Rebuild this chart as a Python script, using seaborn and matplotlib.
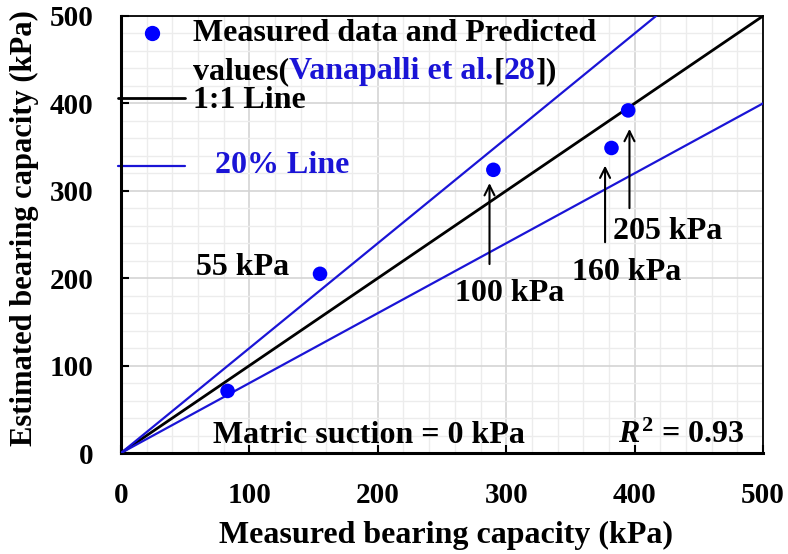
import matplotlib
matplotlib.use("Agg")
import matplotlib.pyplot as plt
import seaborn as sns
import numpy as np
import pandas as pd
from matplotlib.ticker import MultipleLocator

# Data
measured = [83, 155, 290, 382, 395]
estimated = [71, 205, 324, 349, 392]
line_x = [0, 500]
one_to_one = [0, 500]
upper_20 = [0, 600]
lower_20 = [0, 400]
ticks = [0, 100, 200, 300, 400, 500]

# Annotations: (label, text_x, text_y, arrow_x, arrow_tail_y, arrow_head_y)
ann_labels = ["100 kPa", "160 kPa", "205 kPa"]
ann_text_xy = [(303, 183), (394, 207), (426, 253)]
ann_arrows = [(287, 213, 312), (377, 238, 332), (396, 277, 374)]

sns.set_theme(style="white")
plt.rcParams['font.family'] = ['Liberation Serif', 'DejaVu Serif']
plt.rcParams['font.weight'] = 'bold'
plt.rcParams['text.color'] = 'black'
plt.rcParams['axes.labelcolor'] = 'black'
plt.rcParams['xtick.color'] = 'black'
plt.rcParams['ytick.color'] = 'black'
plt.rcParams['mathtext.fontset'] = 'custom'
plt.rcParams['mathtext.it'] = 'Liberation Serif:italic:bold'
plt.rcParams['mathtext.rm'] = 'Liberation Serif:bold'

FS = 23
TFS = 21

fig = plt.figure(figsize=(7.88, 5.54), dpi=100)
ax = fig.add_axes([121/788, 1 - 453/554, 642/788, 437/554])

df = pd.DataFrame({"measured": measured, "estimated": estimated})
lines = pd.DataFrame({"x": line_x, "one": one_to_one, "up": upper_20, "low": lower_20})

sns.lineplot(data=lines, x="x", y="one", color="black", lw=2, ax=ax, zorder=3)
sns.lineplot(data=lines, x="x", y="up", color="#1a14d6", lw=1.6, ax=ax, zorder=3)
sns.lineplot(data=lines, x="x", y="low", color="#1a14d6", lw=1.6, ax=ax, zorder=3)
sns.scatterplot(data=df, x="measured", y="estimated", color="#0000ff", s=110,
                edgecolor="none", ax=ax, zorder=4)

ax.set_xlim(0, 500)
ax.set_ylim(0, 500)
ax.xaxis.set_minor_locator(MultipleLocator(20))
ax.yaxis.set_minor_locator(MultipleLocator(20))
ax.set_xticks(ticks)
ax.set_yticks(ticks)
ax.set_xticklabels([str(t) for t in ticks], fontsize=TFS, fontweight='bold')
ax.set_yticklabels([str(t) for t in ticks], fontsize=TFS, fontweight='bold')
ax.grid(which='major', color='#d4d4d4', lw=1.2, zorder=0)
ax.grid(which='minor', color='#ececec', lw=1.0, zorder=0)
ax.set_axisbelow(True)
ax.tick_params(which='major', direction='in', length=6, width=1.5, color='black',
               bottom=True, left=True, top=False, right=False)
ax.tick_params(axis='y', pad=20)
ax.tick_params(axis='x', pad=21)
ax.tick_params(which='minor', length=0)
for s in ['left', 'bottom']:
    ax.spines[s].set_linewidth(2.2)
    ax.spines[s].set_color('black')
for s in ['top', 'right']:
    ax.spines[s].set_linewidth(1.3)
    ax.spines[s].set_color('black')

ax.set_xlabel("Measured bearing capacity (kPa)", fontsize=FS, fontweight='bold')
ax.set_ylabel("Estimated bearing capacity (kPa)", fontsize=22, fontweight='bold')
ax.xaxis.set_label_coords(0.506, -0.155)
ax.yaxis.set_label_coords(-0.128, 0.515)

# Annotations
ax.text(95, 212, "55 kPa", fontsize=FS, fontweight='bold', ha='center', va='center')
for lab, (tx, ty), (axx, t0, t1) in zip(ann_labels, ann_text_xy, ann_arrows):
    ax.text(tx, ty, lab, fontsize=FS, fontweight='bold', ha='center', va='center')
    ax.annotate("", xy=(axx, t1), xytext=(axx, t0),
                arrowprops=dict(arrowstyle='->', color='black', lw=1.5, mutation_scale=18))

ax.text(193, 20, "Matric suction = 0 kPa", fontsize=FS, fontweight='bold', ha='center', va='center')
ax.text(436, 20, r"$R^2$ = 0.93", fontsize=FS, fontweight='bold', ha='center', va='center')

# Legend (manual)
T = ax.transAxes
ax.plot([0.048], [0.961], 'o', color='#0000ff', ms=10, transform=T, clip_on=False)
ax.text(0.112, 0.961, "Measured data and Predicted", transform=T, fontsize=FS,
        fontweight='bold', va='center', ha='left')
t1 = ax.text(0.112, 0.872, "values(", transform=T, fontsize=FS, fontweight='bold', va='center', ha='left')
fig.canvas.draw()
def chain(prev, s, color):
    return ax.annotate(s, xycoords=prev, xy=(1, 0), va='bottom', ha='left',
                       fontsize=FS, fontweight='bold', color=color)
t2 = chain(t1, "Vanapalli et al.", '#1a14d6')
t3 = chain(t2, "[", 'black')
t4 = chain(t3, "28", '#1a14d6')
t5 = chain(t4, "])", 'black')
ax.plot([-0.005, 0.10], [0.812, 0.812], color='black', lw=2, transform=T, clip_on=False)
ax.text(0.112, 0.806, "1:1 Line", transform=T, fontsize=FS, fontweight='bold', va='center', ha='left')
ax.plot([-0.005, 0.10], [0.657, 0.657], color='#1a14d6', lw=1.6, transform=T, clip_on=False)
ax.text(0.146, 0.657, "20% Line", transform=T, fontsize=FS, fontweight='bold', va='center',
        ha='left', color='#1a14d6')

fig.savefig("out.png", dpi=100)
